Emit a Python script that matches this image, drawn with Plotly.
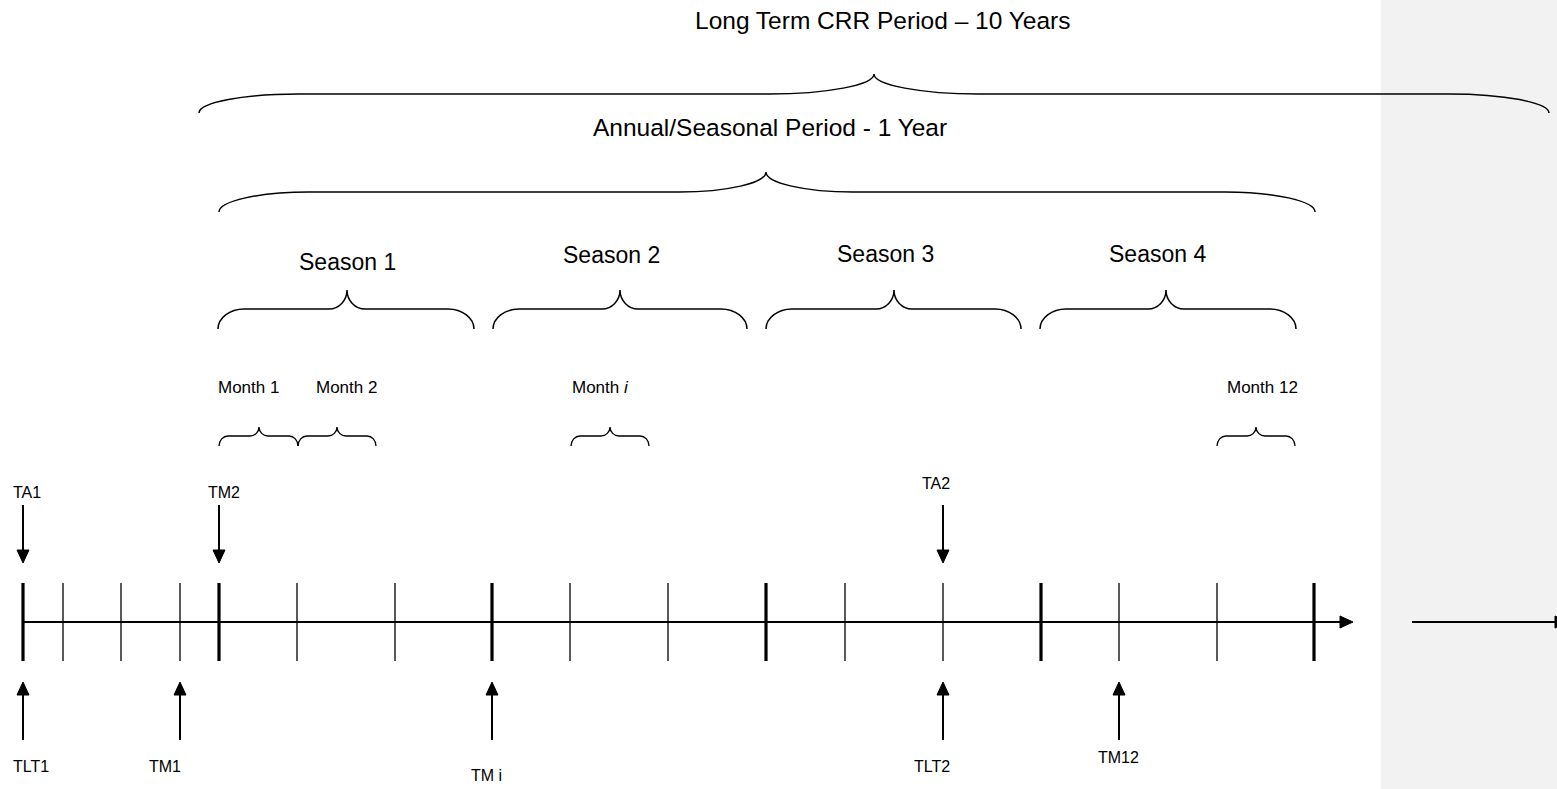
import plotly.graph_objects as go

# ---------------- data ----------------
timeline_major_x = [23, 219, 492, 766, 1041, 1314]
timeline_minor_x = [63, 121, 180, 297, 395, 570, 668, 845, 943, 1119, 1217]

down_labels = ["TA1", "TM2", "TA2"]
down_x = [23, 219, 943]
down_label_x = [27, 224, 936]
down_label_y = [492, 492, 483]

up_labels = ["TLT1", "TM1", "TM i", "TLT2", "TM12"]
up_x = [23, 180, 492, 943, 1119]
up_label_x = [31, 165, 486, 932, 1118]
up_label_y = [766, 766, 775, 766, 757]

period_labels = ["Long Term CRR Period \u2013 10 Years", "Annual/Seasonal Period - 1 Year"]
period_start = [199, 219]
period_end = [1549, 1315]
period_tip = [874, 766]
period_label_x = [882, 770]
period_label_y = [20, 127]

season_labels = ["Season 1", "Season 2", "Season 3", "Season 4"]
season_start = [218, 493, 766, 1040]
season_end = [474, 747, 1021, 1296]
season_tip = [347, 620, 894, 1166]
season_label_x = [347, 611, 885, 1157]
season_label_y = [262, 255, 254, 254]

month_labels = ["Month 1", "Month 2", "Month <i>i</i>", "Month 12"]
month_start = [219, 298, 571, 1217]
month_end = [298, 376, 649, 1295]
month_tip = [259, 337, 610, 1256]
month_label_x = [248, 346, 600, 1262]
month_label_y = [387, 387, 387, 387]

FONT = "Arial, 'Liberation Sans', sans-serif"

W, H = 1557, 789

fig = go.Figure()
fig.add_trace(go.Scatter(x=[0, W], y=[0, H], mode="markers",
                         marker=dict(opacity=0), hoverinfo="skip", showlegend=False))

shapes = []
# grey region
shapes.append(dict(type="rect", xref="x", yref="y", x0=1381, x1=W, y0=0, y1=H,
                   fillcolor="#F2F2F2", line=dict(width=0), layer="below"))


def brace(x0, x1, xc, y_end, y_flat, y_tip, r1, r2, w=1.5):
    h1 = y_end - y_flat
    h2 = y_flat - y_tip
    k = 0.55
    p = (f"M {x0},{y_end} "
         f"C {x0},{y_end - k*h1} {x0 + (1-k)*r1},{y_flat} {x0 + r1},{y_flat} "
         f"L {xc - r2},{y_flat} "
         f"C {xc - (1-k)*r2},{y_flat} {xc},{y_flat - (1-k)*h2} {xc},{y_tip} "
         f"C {xc},{y_flat - (1-k)*h2} {xc + (1-k)*r2},{y_flat} {xc + r2},{y_flat} "
         f"L {x1 - r1},{y_flat} "
         f"C {x1 - (1-k)*r1},{y_flat} {x1},{y_end - k*h1} {x1},{y_end}")
    return dict(type="path", xref="x", yref="y", path=p,
                line=dict(color="black", width=w))


# period braces
shapes.append(brace(period_start[0], period_end[0], period_tip[0], 113, 94, 74, 100, 105))
shapes.append(brace(period_start[1], period_end[1], period_tip[1], 212, 192, 172, 90, 87))
for s, e, t in zip(season_start, season_end, season_tip):
    shapes.append(brace(s, e, t, 329, 309, 290, 26, 18))
for s, e, t in zip(month_start, month_end, month_tip):
    shapes.append(brace(s, e, t, 446, 436, 427, 9, 9, w=1.3))

# timeline
axis_y = 622
shapes.append(dict(type="line", xref="x", yref="y", x0=23, x1=1341, y0=axis_y, y1=axis_y,
                   line=dict(color="black", width=2)))
shapes.append(dict(type="path", xref="x", yref="y",
                   path=f"M 1340,{axis_y-6} L 1353,{axis_y} L 1340,{axis_y+6} Z",
                   fillcolor="black", line=dict(color="black", width=1)))
shapes.append(dict(type="line", xref="x", yref="y", x0=1412, x1=1556, y0=axis_y, y1=axis_y,
                   line=dict(color="black", width=2)))
shapes.append(dict(type="path", xref="x", yref="y",
                   path=f"M 1555,{axis_y-6} L 1568,{axis_y} L 1555,{axis_y+6} Z",
                   fillcolor="black", line=dict(color="black", width=1)))
for x in timeline_minor_x:
    shapes.append(dict(type="line", xref="x", yref="y", x0=x, x1=x, y0=583, y1=661,
                       line=dict(color="black", width=1.3)))
for x in timeline_major_x:
    shapes.append(dict(type="line", xref="x", yref="y", x0=x, x1=x, y0=583, y1=661,
                       line=dict(color="black", width=3.2)))

# down arrows
for x in down_x:
    shapes.append(dict(type="line", xref="x", yref="y", x0=x, x1=x, y0=505, y1=552,
                       line=dict(color="black", width=2)))
    shapes.append(dict(type="path", xref="x", yref="y",
                       path=f"M {x-6},550 L {x+6},550 L {x},563 Z",
                       fillcolor="black", line=dict(color="black", width=1)))
# up arrows
for x in up_x:
    shapes.append(dict(type="line", xref="x", yref="y", x0=x, x1=x, y0=740, y1=693,
                       line=dict(color="black", width=2)))
    shapes.append(dict(type="path", xref="x", yref="y",
                       path=f"M {x-6},695 L {x+6},695 L {x},682 Z",
                       fillcolor="black", line=dict(color="black", width=1)))

annotations = []


def label(text, x, y, size):
    annotations.append(dict(text=text, x=x, y=y, xref="x", yref="y", showarrow=False,
                            xanchor="center", yanchor="middle",
                            font=dict(family=FONT, size=size, color="black")))


for t, x, y in zip(period_labels, period_label_x, period_label_y):
    label(t, x, y, 24.5)
for t, x, y in zip(season_labels, season_label_x, season_label_y):
    label(t, x, y, 23)
for t, x, y in zip(month_labels, month_label_x, month_label_y):
    label(t, x, y, 17)
for t, x, y in zip(down_labels, down_label_x, down_label_y):
    label(t, x, y, 16)
for t, x, y in zip(up_labels, up_label_x, up_label_y):
    label(t, x, y, 16)

fig.update_layout(
    width=W, height=H,
    margin=dict(l=0, r=0, t=0, b=0),
    paper_bgcolor="white", plot_bgcolor="white",
    xaxis=dict(range=[0, W], visible=False, showgrid=False, zeroline=False, fixedrange=True),
    yaxis=dict(range=[H, 0], visible=False, showgrid=False, zeroline=False, fixedrange=True),
    shapes=shapes, annotations=annotations, showlegend=False,
)

fig.write_html("out.html", config={"displayModeBar": False},
               post_script="document.body.style.margin='0';document.body.style.overflow='hidden';")
